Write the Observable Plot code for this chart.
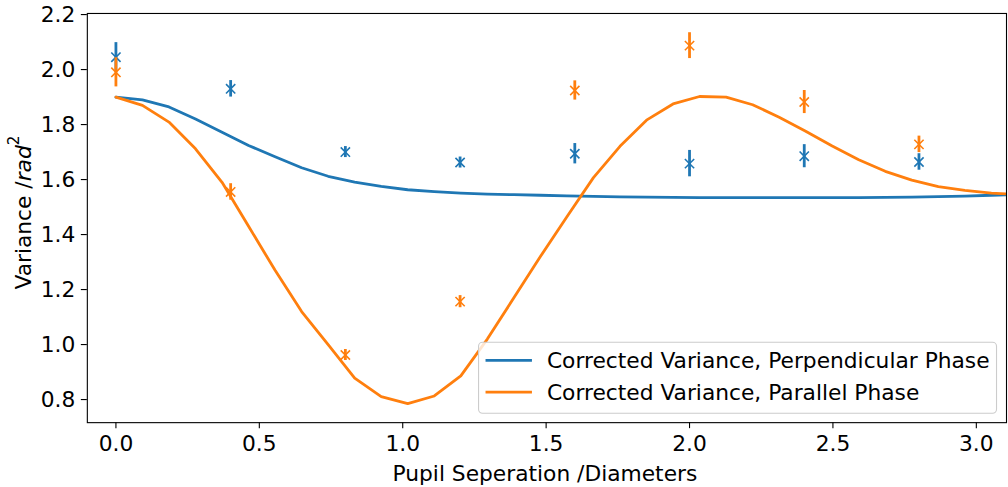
<!DOCTYPE html>
<html>
<head>
<meta charset="utf-8">
<script src="https://cdn.jsdelivr.net/npm/d3@7"></script>
<script src="https://cdn.jsdelivr.net/npm/@observablehq/plot@0.6"></script>
<style>
  html, body { margin: 0; padding: 0; background: white; }
  #wrap { width: 1008px; height: 487px; overflow: hidden; position: relative; }
</style>
</head>
<body>
<div id="wrap"></div>
<script>
// ---- data ----
const curveX = [0, 0.0925, 0.185, 0.2775, 0.37, 0.4625, 0.555, 0.6475, 0.74, 0.8325,
  0.925, 1.0175, 1.11, 1.2025, 1.295, 1.3875, 1.48, 1.5725, 1.665, 1.7575,
  1.85, 1.9425, 2.035, 2.1275, 2.22, 2.3125, 2.405, 2.4975, 2.59, 2.6825,
  2.775, 2.8675, 2.96, 3.0525, 3.145];
const perpCurve = [1.9, 1.89, 1.864, 1.82, 1.772, 1.724, 1.683, 1.643, 1.612, 1.591,
  1.575, 1.563, 1.556, 1.551, 1.547, 1.545, 1.543, 1.541, 1.539, 1.537,
  1.536, 1.535, 1.534, 1.534, 1.534, 1.534, 1.534, 1.534, 1.534, 1.535,
  1.536, 1.538, 1.540, 1.543, 1.546];
const paraCurve = [1.9, 1.87, 1.809, 1.712, 1.59, 1.43, 1.27, 1.12, 1.0, 0.878,
  0.811, 0.785, 0.813, 0.886, 1.02, 1.17, 1.32, 1.465, 1.607, 1.721,
  1.816, 1.875, 1.902, 1.9, 1.872, 1.827, 1.776, 1.722, 1.672, 1.63,
  1.598, 1.574, 1.561, 1.551, 1.545];

const pointX = [0, 0.4, 0.8, 1.2, 1.6, 2.0, 2.4, 2.8];
const perpPoints = [2.045, 1.93, 1.70, 1.662, 1.694, 1.658, 1.685, 1.664];
const perpErr = [0.053, 0.03, 0.02, 0.02, 0.037, 0.048, 0.042, 0.03];
const paraPoints = [1.99, 1.555, 0.962, 1.156, 1.924, 2.087, 1.882, 1.728];
const paraErr = [0.053, 0.03, 0.02, 0.022, 0.035, 0.047, 0.042, 0.03];

const xTicks = [0, 0.5, 1.0, 1.5, 2.0, 2.5, 3.0];
const yTicks = [0.8, 1.0, 1.2, 1.4, 1.6, 1.8, 2.0, 2.2];

const seriesNames = ["Corrected Variance, Perpendicular Phase", "Corrected Variance, Parallel Phase"];
const colors = ["#1f77b4", "#ff7f0e"];
const xLabel = "Pupil Seperation /Diameters";

// ---- tables built from arrays ----
const perpLine = curveX.map((x, i) => ({x, y: perpCurve[i]}));
const paraLine = curveX.map((x, i) => ({x, y: paraCurve[i]}));
const perpPts = pointX.map((x, i) => ({x, y: perpPoints[i], lo: perpPoints[i] - perpErr[i], hi: perpPoints[i] + perpErr[i]}));
const paraPts = pointX.map((x, i) => ({x, y: paraPoints[i], lo: paraPoints[i] - paraErr[i], hi: paraPoints[i] + paraErr[i]}));

const FS = 21.8;
const chart = Plot.plot({
  width: 1010,
  height: 487,
  marginLeft: 87,
  marginRight: 2,
  marginTop: 13,
  marginBottom: 64,
  style: {fontFamily: "DejaVu Sans", fontSize: FS + "px", color: "black", background: "white"},
  x: {domain: [-0.0997, 3.1052]},
  y: {domain: [0.716, 2.204]},
  marks: [
    Plot.ruleX(perpPts, {x: "x", y1: "lo", y2: "hi", stroke: colors[0], strokeWidth: 2.8}),
    Plot.dot(perpPts, {x: "x", y: "y", symbol: "times", r: 4.3, stroke: colors[0], strokeWidth: 1.6}),
    Plot.ruleX(paraPts, {x: "x", y1: "lo", y2: "hi", stroke: colors[1], strokeWidth: 2.8}),
    Plot.dot(paraPts, {x: "x", y: "y", symbol: "times", r: 4.3, stroke: colors[1], strokeWidth: 1.6}),
    Plot.line(perpLine, {x: "x", y: "y", stroke: colors[0], strokeWidth: 2.8, clip: true}),
    Plot.line(paraLine, {x: "x", y: "y", stroke: colors[1], strokeWidth: 2.8, clip: true}),
    Plot.frame({stroke: "black", strokeWidth: 1.1}),
    Plot.axisX({ticks: xTicks, tickFormat: d3.format(".1f"), tickSize: 6, tickPadding: 7, fontSize: FS, label: null, stroke: "black", strokeWidth: 1.1}),
    Plot.axisY({ticks: yTicks, tickFormat: d3.format(".1f"), tickSize: 6, tickPadding: 6, fontSize: FS, label: null, stroke: "black", strokeWidth: 1.1}),
    Plot.text([xLabel], {frameAnchor: "bottom", text: d => d, dy: 51, dx: -2, fontSize: FS, lineAnchor: "middle", fill: "black"})
  ]
});
document.getElementById("wrap").appendChild(chart);

// ---- y label with italic + superscript (mathtext style) ----
const svg = d3.select(chart);
const yl = svg.append("text")
  .attr("transform", "translate(23,213) rotate(-90)")
  .attr("text-anchor", "middle")
  .attr("dominant-baseline", "central")
  .attr("font-family", "DejaVu Sans")
  .attr("font-size", FS)
  .attr("fill", "black");
yl.append("tspan").text("Variance /");
yl.append("tspan").attr("font-style", "italic").text("rad");
yl.append("tspan").attr("font-size", FS * 0.7).attr("dy", -9).text("2");

// ---- legend ----
const lg = svg.append("g").attr("font-family", "DejaVu Sans").attr("font-size", FS).attr("text-anchor", "start");
lg.append("rect")
  .attr("x", 479.5).attr("y", 343).attr("width", 519).attr("height", 71)
  .attr("rx", 4).attr("fill", "white").attr("fill-opacity", 0.8)
  .attr("stroke", "#cccccc").attr("stroke-width", 1.1);
seriesNames.forEach((name, i) => {
  const cy = 361 + i * 32;
  lg.append("line").attr("x1", 486.5).attr("x2", 533).attr("y1", cy).attr("y2", cy)
    .attr("stroke", colors[i]).attr("stroke-width", 2.8);
  lg.append("text").attr("x", 548).attr("y", cy).attr("dominant-baseline", "central")
    .attr("text-anchor", "start").attr("fill", "black").text(name);
});
</script>
</body>
</html>
